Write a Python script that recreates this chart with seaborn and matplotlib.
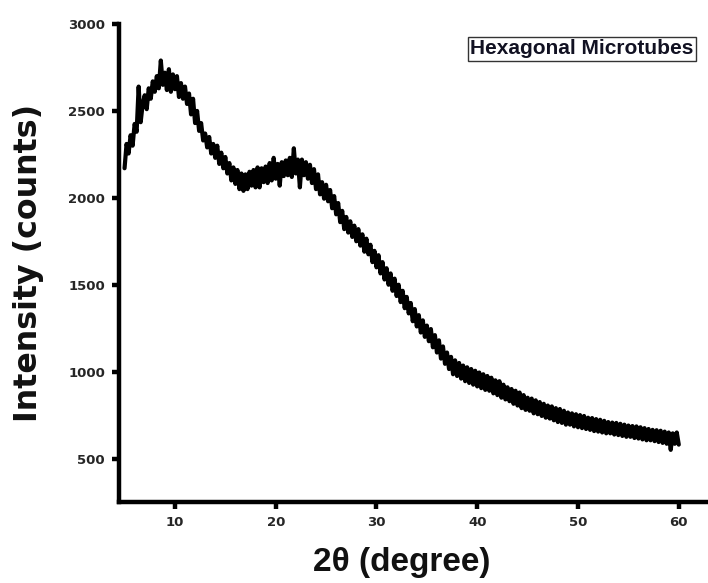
import numpy as np
import pandas as pd
import matplotlib
matplotlib.use("Agg")
import matplotlib.pyplot as plt
import seaborn as sns

# ---- data ----
two_theta_start = 5.0
two_theta_step = 0.2
intensity = [
    2170, 2310, 2255, 2360, 2300, 2425, 2380, 2640, 2435, 2540,
    2590, 2510, 2630, 2570, 2670, 2610, 2700, 2630, 2790, 2650,
    2720, 2620, 2740, 2610, 2710, 2625, 2700, 2580, 2660, 2570,
    2640, 2540, 2600, 2480, 2570, 2430, 2500, 2385, 2430, 2330,
    2370, 2290, 2350, 2255, 2310, 2230, 2300, 2195, 2260, 2170,
    2235, 2140, 2200, 2100, 2175, 2080, 2160, 2050, 2140, 2040,
    2135, 2050, 2150, 2070, 2160, 2060, 2175, 2060, 2170, 2090,
    2180, 2085, 2200, 2100, 2230, 2110, 2195, 2070, 2205, 2125,
    2215, 2130, 2230, 2120, 2285, 2140, 2220, 2060, 2220, 2130,
    2205, 2110, 2190, 2085, 2165, 2050, 2135, 2020, 2090, 1995,
    2075, 1980, 2045, 1940, 2010, 1905, 1970, 1860, 1925, 1820,
    1890, 1800, 1865, 1775, 1840, 1750, 1820, 1725, 1790, 1690,
    1765, 1675, 1730, 1630, 1695, 1600, 1670, 1565, 1630, 1530,
    1595, 1500, 1565, 1465, 1535, 1435, 1500, 1400, 1465, 1365,
    1430, 1335, 1395, 1290, 1360, 1260, 1325, 1225, 1295, 1200,
    1265, 1175, 1245, 1140, 1210, 1110, 1180, 1075, 1145, 1045,
    1110, 1015, 1085, 985, 1065, 975, 1050, 960, 1035, 945,
    1025, 935, 1015, 925, 1005, 915, 995, 905, 985, 895,
    975, 890, 965, 875, 950, 865, 945, 850, 925, 840,
    910, 830, 900, 815, 890, 805, 880, 790, 865, 780,
    850, 775, 845, 760, 835, 755, 825, 745, 815, 735,
    805, 730, 800, 720, 790, 710, 785, 705, 775, 695,
    765, 695, 760, 685, 755, 680, 750, 675, 745, 670,
    735, 665, 733, 658, 727, 655, 723, 650, 717, 645,
    710, 645, 707, 638, 705, 635, 700, 630, 695, 625,
    690, 625, 687, 618, 685, 615, 680, 610, 675, 605,
    670, 605, 665, 600, 663, 595, 660, 590, 655, 585,
    650, 550, 645, 585, 650, 580,
]
two_theta = np.round(two_theta_start + two_theta_step * np.arange(len(intensity)), 2)

x_ticks = [10, 20, 30, 40, 50, 60]
y_ticks = [500, 1000, 1500, 2000, 2500, 3000]
x_label = "2\u03b8 (degree)"
y_label = "Intensity (counts)"
legend_text = "Hexagonal Microtubes"

df = pd.DataFrame({"two_theta": two_theta, "intensity": intensity})

# ---- figure ----
sns.set_theme(style="ticks")
plt.rcParams["font.family"] = ["DejaVu Sans"]

W, H = 708, 583
fig = plt.figure(figsize=(W / 100, H / 100), dpi=100)
ax = fig.add_axes([119 / W, 1 - 502 / H, (W - 119) / W, (502 - 24) / H])

sns.lineplot(data=df, x="two_theta", y="intensity", ax=ax, color="black",
             linewidth=3.0, estimator=None, sort=False)

ax.set_xlim(4.45, 62.9)
ax.set_ylim(250, 3000)
ax.set_xticks(x_ticks)
ax.set_yticks(y_ticks)

for side in ("top", "right"):
    ax.spines[side].set_visible(False)
for side in ("left", "bottom"):
    ax.spines[side].set_linewidth(3.2)
    ax.spines[side].set_color("black")

ax.tick_params(axis="both", direction="out", length=5, width=3.2, color="black",
               labelsize=9.5, labelcolor="#262626", pad=5)
for lab in ax.get_xticklabels() + ax.get_yticklabels():
    lab.set_fontweight("bold")

ax.set_xlabel(x_label, fontsize=24, fontweight="bold",
              family=["Liberation Sans", "DejaVu Sans"], color="#111111")
ax.set_ylabel(y_label, fontsize=22.8, fontweight="bold", color="#111111")
ax.xaxis.set_label_coords((402 - 119) / (W - 119), -(562 - 502) / (502 - 24), transform=ax.transAxes)
ax.yaxis.set_label_coords(-(119 - 28) / (W - 119), 0.5)
ax.xaxis.label.set_va("center")
ax.yaxis.label.set_va("center")

ax.text(582 / W, 1 - 49 / H, legend_text, transform=fig.transFigure,
        ha="center", va="center", fontsize=15, fontweight="bold",
        family=["Liberation Sans", "DejaVu Sans"], color="#111122",
        bbox=dict(boxstyle="square,pad=0.12", facecolor="white",
                  edgecolor="#333333", linewidth=1.0))

fig.savefig("out.png", dpi=100)
